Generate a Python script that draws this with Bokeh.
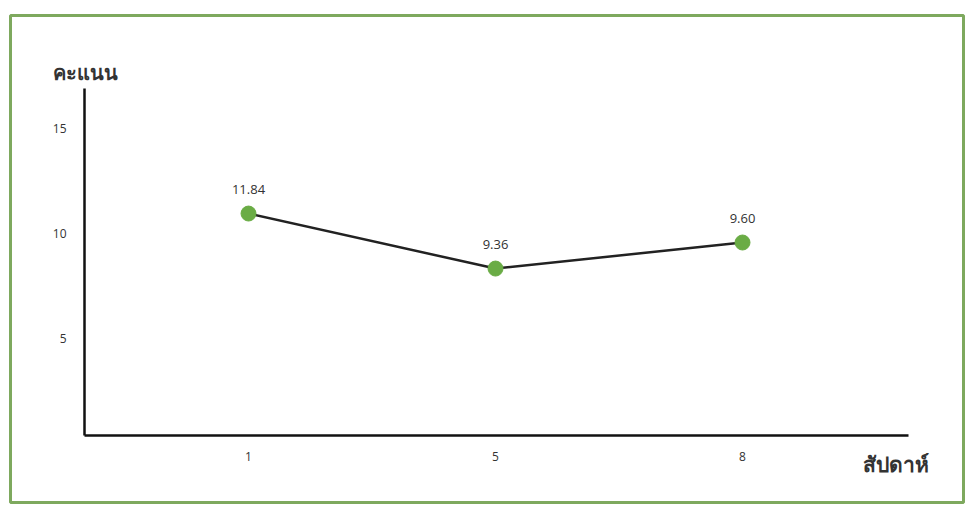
from bokeh.plotting import figure
from bokeh.models import LinearAxis, FixedTicker, Label, ColumnDataSource, Range1d
from bokeh.core.properties import value
from bokeh.embed import file_html
from bokeh.resources import INLINE

# Data
weeks = ["1", "5", "8"]
scores = [10.95, 8.33, 9.57]          # plotted positions
score_labels = ["11.84", "9.36", "9.60"]
y_ticks = [5, 10, 15]

xs = list(range(len(weeks)))
src = ColumnDataSource(dict(x=xs, y=scores, lab=score_labels))

p = figure(width=966, height=520, output_backend="svg", toolbar_location=None,
           x_range=Range1d(-0.9636, 2.8947), y_range=Range1d(-2.81, 20.38),
           x_axis_location=None, y_axis_location=None,
           min_border_left=10, min_border_right=3, min_border_top=15, min_border_bottom=18)
p.grid.visible = False
p.outline_line_color = "#7ea95e"
p.outline_line_width = 3
p.background_fill_color = "white"
p.border_fill_color = "white"

font = "Open Sans"

yax = LinearAxis(fixed_location=-0.664, bounds=(0.38, 16.9),
                 ticker=FixedTicker(ticks=y_ticks))
yax.axis_line_color = "#111111"
yax.axis_line_width = 2.5
yax.major_tick_line_color = None
yax.minor_tick_line_color = None
yax.major_label_text_font = font
yax.major_label_text_font_size = "12px"
yax.major_label_text_color = "#333333"
yax.major_label_standoff = 12
p.add_layout(yax, "left")

xax = LinearAxis(fixed_location=0.38, bounds=(-0.664, 2.672),
                 ticker=FixedTicker(ticks=xs),
                 major_label_overrides={i: w for i, w in zip(xs, weeks)})
xax.axis_line_color = "#111111"
xax.axis_line_width = 2.5
xax.major_tick_line_color = None
xax.minor_tick_line_color = None
xax.major_label_text_font = font
xax.major_label_text_font_size = "12px"
xax.major_label_text_color = "#333333"
xax.major_label_standoff = 10
p.add_layout(xax, "below")

p.line("x", "y", source=src, line_color="#222222", line_width=2.5)
p.scatter("x", "y", source=src, size=15, fill_color="#6aac45", line_color="#6aac45")
p.text("x", "y", text="lab", source=src, y_offset=-24, text_align="center",
       text_baseline="middle", text_font=value(font), text_font_size="13px",
       text_color="#333333")

# screen units are measured from the frame's bottom-left corner (frame: x 10..963, y 15..502)
p.add_layout(Label(x=42, y=430, x_units="screen", y_units="screen",
                   text="คะแนน", text_font=font, text_font_size="20px",
                   text_font_style="bold", text_color="#333333",
                   text_baseline="middle", text_align="left"))
p.add_layout(Label(x=852, y=39, x_units="screen", y_units="screen",
                   text="สัปดาห์", text_font=font, text_font_size="21px",
                   text_font_style="bold", text_color="#333333",
                   text_baseline="middle", text_align="left"))

open("out.html", "w").write(file_html(p, INLINE))
